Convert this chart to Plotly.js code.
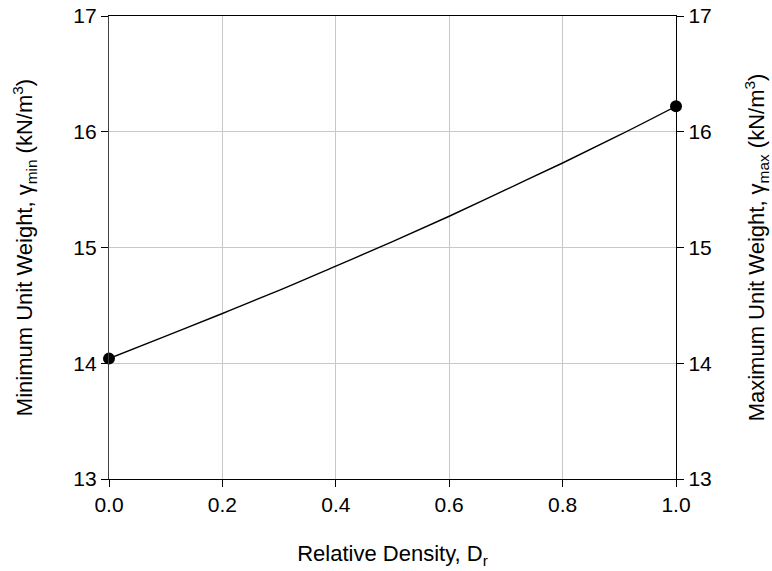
<!DOCTYPE html>
<html>
<head>
<meta charset="utf-8">
<script src="https://cdn.plot.ly/plotly-3.0.1.min.js"></script>
<style>html,body{margin:0;padding:0;background:#fff;}#chart{width:772px;height:571px;}</style>
</head>
<body>
<div id="chart"></div>
<script>
// Relative density and unit weight
const relDensity = [0.0, 0.1, 0.2, 0.3, 0.4, 0.5, 0.6, 0.7, 0.8, 0.9, 1.0];
const unitWeight = [14.04, 14.235, 14.43, 14.63, 14.84, 15.05, 15.27, 15.50, 15.73, 15.97, 16.22];
// End points: minimum and maximum unit weight
const endDensity = [0.0, 1.0];
const endWeight = [14.04, 16.22];
const xTicks = [0.0, 0.2, 0.4, 0.6, 0.8, 1.0];
const xTickText = ['0.0', '0.2', '0.4', '0.6', '0.8', '1.0'];
const yTicks = [13, 14, 15, 16, 17];

const fontFam = 'Liberation Sans, Arial, sans-serif';

const traces = [
  {
    x: relDensity, y: unitWeight, type: 'scatter', mode: 'lines',
    line: {color: '#000', width: 1.4, shape: 'spline', smoothing: 1},
    hoverinfo: 'skip', showlegend: false
  },
  {
    x: endDensity, y: endWeight, type: 'scatter', mode: 'markers',
    marker: {color: '#000', size: 12},
    yaxis: 'y2', showlegend: false, cliponaxis: false
  }
];

const axisCommon = {
  ticks: 'outside', ticklen: 7, tickwidth: 1, tickcolor: '#000',
  tickfont: {family: fontFam, size: 21, color: '#000'},
  gridcolor: '#c8c8c8', gridwidth: 1, zeroline: false,
  showline: true, linecolor: '#000', linewidth: 1.2
};

const layout = {
  width: 772, height: 571,
  margin: {l: 109, r: 96, t: 16, b: 92},
  paper_bgcolor: '#fff', plot_bgcolor: '#fff',
  showlegend: false,
  xaxis: Object.assign({}, axisCommon, {
    range: [0, 1], tickvals: xTicks, ticktext: xTickText,
    mirror: true,
    title: {text: 'Relative Density, D<sub>r</sub>', font: {family: fontFam, size: 22, color: '#000'}, standoff: 30}
  }),
  yaxis: Object.assign({}, axisCommon, {
    range: [13, 17], tickvals: yTicks, linecolor: '#404040',
    title: {text: 'Minimum Unit Weight, γ<sub>min</sub> (kN/m<sup>3</sup>)', font: {family: fontFam, size: 22, color: '#000'}, standoff: 34}
  }),
  yaxis2: Object.assign({}, axisCommon, {
    range: [13, 17], tickvals: yTicks, overlaying: 'y', side: 'right', showgrid: false,
    title: {text: 'Maximum Unit Weight, γ<sub>max</sub> (kN/m<sup>3</sup>)', font: {family: fontFam, size: 22, color: '#000'}, standoff: 42}
  })
};

Plotly.newPlot('chart', traces, layout, {displayModeBar: false, staticPlot: true});
</script>
</body>
</html>
